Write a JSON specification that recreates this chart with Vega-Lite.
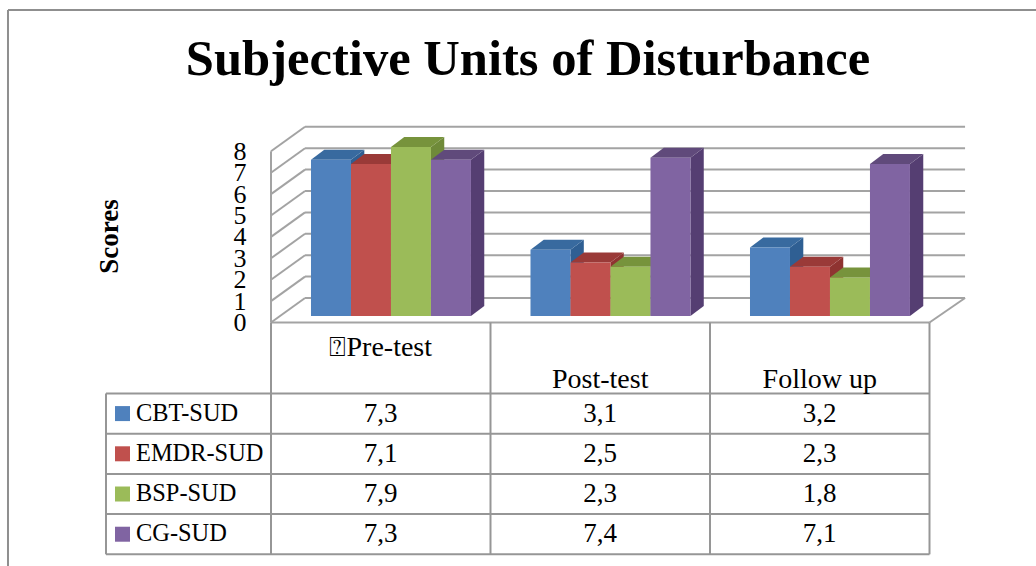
{
"$schema":"https://vega.github.io/schema/vega-lite/v6.json",
"width":1036,"height":566,"padding":0,"autosize":{"type":"none"},
"background":"#ffffff",
"view":{"stroke":null},
"title":{"text":"Subjective Units of Disturbance","font":"Liberation Serif","fontSize":50.6,"fontWeight":"bold","color":"#000000","anchor":"middle","frame":"group","offset":-76,"dy":10,"dx":10},
"config":{"text":{"font":"Liberation Serif","fontSize":24,"color":"#000000"}},
"datasets":{
"scores":[
{"phase":"Pre-test","series":"CBT-SUD","value":7.3},
{"phase":"Pre-test","series":"EMDR-SUD","value":7.1},
{"phase":"Pre-test","series":"BSP-SUD","value":7.9},
{"phase":"Pre-test","series":"CG-SUD","value":7.3},
{"phase":"Post-test","series":"CBT-SUD","value":3.1},
{"phase":"Post-test","series":"EMDR-SUD","value":2.5},
{"phase":"Post-test","series":"BSP-SUD","value":2.3},
{"phase":"Post-test","series":"CG-SUD","value":7.4},
{"phase":"Follow up","series":"CBT-SUD","value":3.2},
{"phase":"Follow up","series":"EMDR-SUD","value":2.3},
{"phase":"Follow up","series":"BSP-SUD","value":1.8},
{"phase":"Follow up","series":"CG-SUD","value":7.1}],
"ticks":[{"tick":0},{"tick":1},{"tick":2},{"tick":3},{"tick":4},{"tick":5},{"tick":6},{"tick":7},{"tick":8}],
"phases":[{"phase":"Pre-test","label":"⍰Pre-test","col":0,"row":-1.495},{"phase":"Post-test","label":"Post-test","col":1,"row":-3.0},{"phase":"Follow up","label":"Follow up","col":2,"row":-3.0}],
"legend":[{"series":"CBT-SUD","row":0},{"series":"EMDR-SUD","row":1},{"series":"BSP-SUD","row":2},{"series":"CG-SUD","row":3}]
},
"layer":[
{"data":{"name":"ticks"},"transform":[{"calculate":"datum.tick-0.304","as":"front"},{"calculate":"datum.tick+0.841","as":"back"},{"calculate":"0","as":"x0"},{"calculate":"0.155","as":"x1"},{"calculate":"3.162","as":"x3"}],
"mark":{"type":"rule","color":"#a3a3a3","strokeWidth":2},
"encoding":{"x":{"field":"x0","type":"quantitative","axis":null,"scale":{"domain":[-1.2346,3.4852],"nice":false,"zero":false}},"x2":{"field":"x1"},
"y":{"field":"front","type":"quantitative","scale":{"domain":[-11.682,14.766],"nice":false,"zero":false},
"axis":{"values":[0,1,2,3,4,5,6,7,8],"format":"d","domain":false,"ticks":false,"grid":false,"labelFont":"Liberation Serif","labelFontSize":26,"labelColor":"#000000","labelPadding":0,"labelOffset":6.5,"labelOverlap":false,"labelBound":false,"labelFlush":false,"offset":-246,"title":"Scores","titleFont":"Liberation Serif","titleFontSize":27,"titleFontWeight":"bold","titleColor":"#000000","titleX":-137,"titleY":236,"titleAngle":-90,"titleAlign":"center","titleBaseline":"middle"}},"y2":{"field":"back"}}},
{"data":{"name":"ticks"},"transform":[{"calculate":"datum.tick+0.841","as":"back"},{"calculate":"0.155","as":"x1"},{"calculate":"3.162","as":"x3"}],
"mark":{"type":"rule","color":"#a3a3a3","strokeWidth":2},
"encoding":{"x":{"field":"x1","type":"quantitative","axis":null},"x2":{"field":"x3"},"y":{"field":"back","type":"quantitative","axis":null}}},
{"data":{"name":"ticks"},"transform":[{"filter":"datum.tick==0"},{"calculate":"0","as":"x0"},{"calculate":"-0.304","as":"y0"},{"calculate":"7.696","as":"y1"}],
"mark":{"type":"rule","color":"#a3a3a3","strokeWidth":2},
"encoding":{"x":{"field":"x0","type":"quantitative","axis":null},"y":{"field":"y0","type":"quantitative","axis":null},"y2":{"field":"y1"}}},
{"data":{"name":"ticks"},"transform":[{"filter":"datum.tick==0"},{"calculate":"0","as":"x0"},{"calculate":"3","as":"x1"},{"calculate":"-0.304","as":"y0"}],
"mark":{"type":"rule","color":"#a3a3a3","strokeWidth":2},
"encoding":{"x":{"field":"x0","type":"quantitative","axis":null},"x2":{"field":"x1"},"y":{"field":"y0","type":"quantitative","axis":null}}},
{"data":{"name":"ticks"},"transform":[{"filter":"datum.tick==0"},{"calculate":"3","as":"x1"},{"calculate":"3.162","as":"x3"},{"calculate":"-0.304","as":"y0"},{"calculate":"0.841","as":"y1"}],
"mark":{"type":"rule","color":"#a3a3a3","strokeWidth":2},
"encoding":{"x":{"field":"x1","type":"quantitative","axis":null},"x2":{"field":"x3"},"y":{"field":"y0","type":"quantitative","axis":null},"y2":{"field":"y1"}}},
{"data":{"name":"scores"},"transform":[
{"calculate":"indexof(['Pre-test','Post-test','Follow up'],datum.phase)+0.1822+indexof(['CBT-SUD','EMDR-SUD','BSP-SUD','CG-SUD'],datum.series)*0.1822","as":"left"},
{"calculate":"datum.left+0.1822","as":"right"},{"calculate":"[0,1]","as":"t"},{"flatten":["t"]},
{"calculate":"datum.right+datum.t*0.0606","as":"sx"},{"calculate":"datum.value+datum.t*0.467","as":"sy"},{"calculate":"datum.t*0.467","as":"sy2"},{"calculate":"datum.phase+datum.series","as":"bar"}],
"mark":{"type":"area","orient":"vertical","opacity":1},
"encoding":{"x":{"field":"sx","type":"quantitative","axis":null},"y":{"field":"sy","type":"quantitative","axis":null,"stack":null},"y2":{"field":"sy2"},"detail":{"field":"bar"},
"color":{"field":"series","type":"nominal","legend":null,"scale":{"domain":["CBT-SUD","EMDR-SUD","BSP-SUD","CG-SUD"],"range":["#2f5f93","#8f3331","#6f8a39","#553e72"]}}}},
{"data":{"name":"scores"},"transform":[
{"calculate":"indexof(['Pre-test','Post-test','Follow up'],datum.phase)+0.1822+indexof(['CBT-SUD','EMDR-SUD','BSP-SUD','CG-SUD'],datum.series)*0.1822","as":"left"},
{"calculate":"datum.left+0.1822","as":"right"},{"calculate":"[0,1]","as":"t"},{"flatten":["t"]},
{"calculate":"datum.left+datum.t*0.0606","as":"tx"},{"calculate":"datum.right+datum.t*0.0606","as":"tx2"},{"calculate":"datum.value+datum.t*0.467","as":"ty"},{"calculate":"datum.phase+datum.series","as":"bar"}],
"mark":{"type":"area","orient":"horizontal","opacity":1},
"encoding":{"y":{"field":"ty","type":"quantitative","axis":null},"x":{"field":"tx","type":"quantitative","axis":null,"stack":null},"x2":{"field":"tx2"},"detail":{"field":"bar"},
"color":{"field":"series","type":"nominal","legend":null,"scale":{"domain":["CBT-SUD","EMDR-SUD","BSP-SUD","CG-SUD"],"range":["#386a9f","#9a3a38","#77933c","#604a7b"]}}}},
{"data":{"name":"scores"},"transform":[
{"calculate":"indexof(['Pre-test','Post-test','Follow up'],datum.phase)+0.1822+indexof(['CBT-SUD','EMDR-SUD','BSP-SUD','CG-SUD'],datum.series)*0.1822","as":"left"},
{"calculate":"datum.left+0.1822","as":"right"},{"calculate":"0","as":"base"}],
"mark":{"type":"rect"},
"encoding":{"x":{"field":"left","type":"quantitative","axis":null},"x2":{"field":"right"},"y":{"field":"value","type":"quantitative","axis":null},"y2":{"field":"base"},
"color":{"field":"series","type":"nominal","legend":null,"scale":{"domain":["CBT-SUD","EMDR-SUD","BSP-SUD","CG-SUD"],"range":["#4f81bd","#c0504d","#9bbb59","#8064a2"]}}}},
{"data":{"name":"ticks"},"transform":[{"filter":"datum.tick<=4"},{"calculate":"-3.62-1.879*datum.tick","as":"ry"},{"calculate":"-0.7517","as":"x0"},{"calculate":"3","as":"x1"}],
"mark":{"type":"rule","color":"#969696","strokeWidth":2},
"encoding":{"x":{"field":"x0","type":"quantitative","axis":null},"x2":{"field":"x1"},"y":{"field":"ry","type":"quantitative","axis":null}}},
{"data":{"name":"ticks"},"transform":[{"filter":"datum.tick<=3"},{"calculate":"-0.304","as":"y0"},{"calculate":"-11.136","as":"y1"}],
"mark":{"type":"rule","color":"#969696","strokeWidth":2},
"encoding":{"x":{"field":"tick","type":"quantitative","axis":null},"y":{"field":"y0","type":"quantitative","axis":null},"y2":{"field":"y1"}}},
{"data":{"name":"ticks"},"transform":[{"filter":"datum.tick==0"},{"calculate":"-0.7517","as":"x0"},{"calculate":"-3.62","as":"y0"},{"calculate":"-11.136","as":"y1"}],
"mark":{"type":"rule","color":"#969696","strokeWidth":2},
"encoding":{"x":{"field":"x0","type":"quantitative","axis":null},"y":{"field":"y0","type":"quantitative","axis":null},"y2":{"field":"y1"}}},
{"data":{"name":"ticks"},"transform":[{"filter":"datum.tick==0"},{"calculate":"-1.1982","as":"x0"},{"calculate":"3.4852","as":"x1"},{"calculate":"14.299","as":"y0"},{"calculate":"-11.682","as":"y1"}],
"mark":{"type":"rule","color":"#8f8f8f","strokeWidth":2},
"encoding":{"x":{"field":"x0","type":"quantitative","axis":null},"x2":{"field":"x1"},"y":{"field":"y0","type":"quantitative","axis":null}}},
{"data":{"name":"ticks"},"transform":[{"filter":"datum.tick==0"},{"calculate":"-1.1982","as":"x0"},{"calculate":"14.299","as":"y0"},{"calculate":"-11.682","as":"y1"}],
"mark":{"type":"rule","color":"#8f8f8f","strokeWidth":2},
"encoding":{"x":{"field":"x0","type":"quantitative","axis":null},"y":{"field":"y0","type":"quantitative","axis":null},"y2":{"field":"y1"}}},
{"data":{"name":"scores"},"transform":[
{"calculate":"indexof(['Pre-test','Post-test','Follow up'],datum.phase)+0.5","as":"cx"},
{"calculate":"-4.56-1.879*indexof(['CBT-SUD','EMDR-SUD','BSP-SUD','CG-SUD'],datum.series)","as":"cy"},
{"calculate":"replace(format(datum.value,'.1f'),'.',',')","as":"txt"}],
"mark":{"type":"text","align":"center","baseline":"middle","fontSize":27},
"encoding":{"x":{"field":"cx","type":"quantitative","axis":null},"y":{"field":"cy","type":"quantitative","axis":null},"text":{"field":"txt"}}},
{"data":{"name":"phases"},"transform":[{"calculate":"datum.col+0.5","as":"cx"}],
"mark":{"type":"text","align":"center","baseline":"middle","fontSize":28},
"encoding":{"x":{"field":"cx","type":"quantitative","axis":null},"y":{"field":"row","type":"quantitative","axis":null},"text":{"field":"label"}}},
{"data":{"name":"legend"},"transform":[{"calculate":"-4.56-1.879*datum.row","as":"cy"},{"calculate":"-0.615","as":"tx"}],
"mark":{"type":"text","align":"left","baseline":"middle","fontSize":24.4},
"encoding":{"x":{"field":"tx","type":"quantitative","axis":null},"y":{"field":"cy","type":"quantitative","axis":null},"text":{"field":"series"}}},
{"data":{"name":"legend"},"transform":[{"calculate":"-4.56-1.879*datum.row","as":"cy"},{"calculate":"-0.6765","as":"sx"}],
"mark":{"type":"point","shape":"square","filled":true,"size":225,"opacity":1},
"encoding":{"x":{"field":"sx","type":"quantitative","axis":null},"y":{"field":"cy","type":"quantitative","axis":null},
"color":{"field":"series","type":"nominal","legend":null,"scale":{"domain":["CBT-SUD","EMDR-SUD","BSP-SUD","CG-SUD"],"range":["#4f81bd","#c0504d","#9bbb59","#8064a2"]}}}}
],
"resolve":{"scale":{"color":"independent"},"axis":{"y":"independent"}}
}
